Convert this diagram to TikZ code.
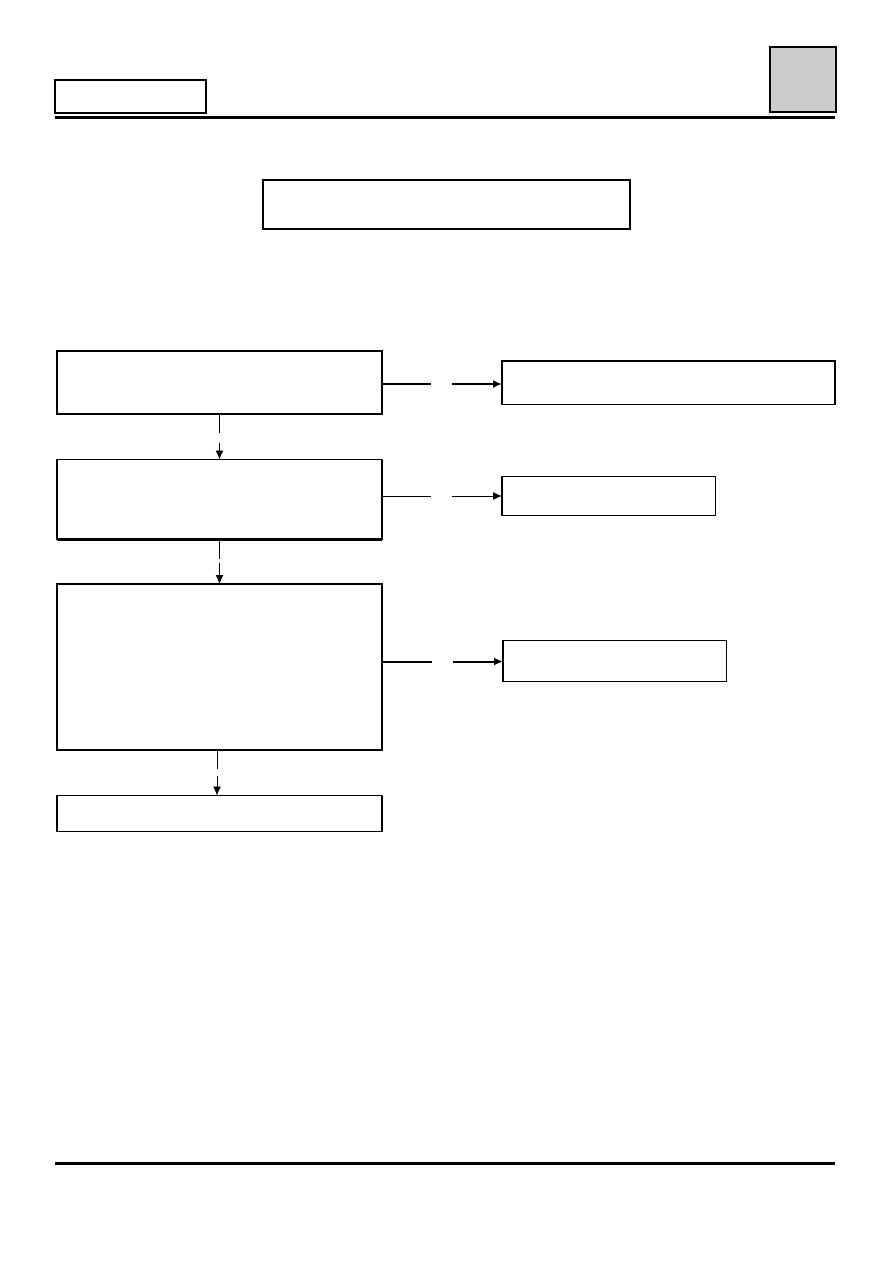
\documentclass[tikz,border=0pt]{standalone}
\usetikzlibrary{arrows.meta}
\definecolor{hdrgray}{HTML}{CCCCCC}
\tikzset{
  box/.style={draw=black, line width=1.3pt, rectangle, inner sep=0pt, outer sep=0pt, anchor=north west},
  thin link/.style={draw=black, line width=0.9pt},
  thick link/.style={draw=black, line width=2pt},
  tip/.style={-{Latex[length=9pt,width=8pt]}},
  rule/.style={draw=black, line width=3pt},
}
\begin{document}
\begin{tikzpicture}[x=1pt,y=-1pt]
\useasboundingbox (0,0) rectangle (893,1263);
% header
\node[box, minimum width=151pt, minimum height=33pt] (hdr) at (55,80) {};
\node[box, line width=2.2pt, fill=hdrgray, minimum width=66pt, minimum height=65pt] (tab) at (770,47) {};
\coordinate (rl1) at (55,117.5);
\coordinate (rr1) at (835,117.5);
\draw[rule] (rl1) -- (rr1);
% title
\node[box, minimum width=367pt, minimum height=49pt] (title) at (263,180) {};
% left column
\node[box, minimum width=325pt, minimum height=63pt] (A) at (57,351) {};
\node[box, minimum width=325pt, minimum height=80pt] (B) at (57,459.5) {};
\node[box, minimum width=325pt, minimum height=166pt] (C) at (57,584) {};
\node[box, minimum width=325pt, minimum height=36pt] (D) at (57,795.5) {};
\draw[line width=2.4pt] (B.south west) -- (B.south east);
\draw[line width=2.4pt] (C.south west) -- (C.south east);
% right column
\node[box, minimum width=333pt, minimum height=43.5pt] (R1) at (502,361) {};
\draw[line width=2.6pt] (R1.north west) -- (R1.north east);
\node[box, minimum width=213.5pt, minimum height=39pt] (R2) at (502,476.5) {};
\node[box, minimum width=223.5pt, minimum height=41pt] (R3) at (503,640.5) {};
% horizontal connectors (interrupted)
\coordinate (h1a) at (431,384);
\coordinate (h1b) at (452,384);
\draw[thick link] (A.east |- h1a) -- (h1a);
\draw[thick link, tip] (h1b) -- (R1.west |- h1b);
\coordinate (h2a) at (431,496);
\coordinate (h2b) at (452,496);
\draw[thin link] (B.east |- h2a) -- (h2a);
\draw[thin link, tip] (h2b) -- (R2.west |- h2b);
\coordinate (h3a) at (432,661.5);
\coordinate (h3b) at (453,661.5);
\draw[thick link] (C.east |- h3a) -- (h3a);
\draw[thick link, tip] (h3b) -- (R3.west |- h3b);
% vertical connectors (interrupted)
\coordinate (v1a) at (219.5,433);
\coordinate (v1b) at (219.5,443);
\draw[thin link] (v1a |- A.south) -- (v1a);
\draw[thin link, tip] (v1b) -- (v1b |- B.north);
\coordinate (v2a) at (219.5,559);
\coordinate (v2b) at (219.5,563);
\draw[thin link] (v2a |- B.south) -- (v2a);
\draw[thin link, tip] (v2b) -- (v2b |- C.north);
\coordinate (v3a) at (217,769);
\coordinate (v3b) at (217,776);
\draw[thin link] (v3a |- C.south) -- (v3a);
\draw[thin link, tip] (v3b) -- (v3b |- D.north);
% footer rule
\coordinate (rl2) at (55,1163.5);
\coordinate (rr2) at (835,1163.5);
\draw[rule] (rl2) -- (rr2);
\end{tikzpicture}
\end{document}
